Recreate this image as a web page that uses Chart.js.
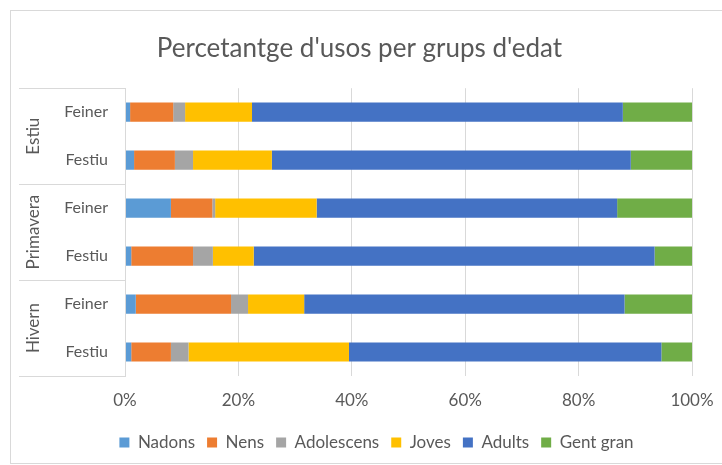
<!DOCTYPE html>
<html>
<head>
<meta charset="utf-8">
<script src="https://cdn.jsdelivr.net/npm/chart.js@4.4.0/dist/chart.umd.min.js"></script>
<style>
html,body{margin:0;padding:0;background:#fff;}
#wrap{position:relative;width:722px;height:465px;}
</style>
</head>
<body>
<div id="wrap"><canvas id="c" width="722" height="465"></canvas></div>
<script>
const titleText = "Percetantge d'usos per grups d'edat";
const categories = ['Feiner', 'Festiu', 'Feiner', 'Festiu', 'Feiner', 'Festiu'];
const groups = ['Estiu', 'Primavera', 'Hivern'];
const groupSizes = [2, 2, 2];
const xTicks = [0, 20, 40, 60, 80, 100];

const nadons     = [0.9, 1.6, 8.1, 1.1, 1.9, 1.1];
const nens       = [7.6, 7.2, 7.3, 10.9, 16.8, 7.0];
const adolescens = [2.1, 3.2, 0.5, 3.5, 3.0, 3.1];
const joves      = [11.8, 13.9, 17.9, 7.2, 9.9, 28.3];
const adults     = [65.4, 63.3, 53.0, 70.7, 56.5, 55.1];
const gentGran   = [12.2, 10.8, 13.2, 6.6, 11.9, 5.4];

const seriesNames = ['Nadons', 'Nens', 'Adolescens', 'Joves', 'Adults', 'Gent gran'];
const seriesData = [nadons, nens, adolescens, joves, adults, gentGran];
const seriesColors = ['#5B9BD5', '#ED7D31', '#A5A5A5', '#FFC000', '#4472C4', '#70AD47'];

const FONT = 'Lato, "Open Sans", sans-serif';
const TEXT = '#595959';
const GRID = '#d9d9d9';

const groupPlugin = {
  id: 'groupPlugin',
  afterLayout(chart) {
    if (chart.titleBlock) { chart.titleBlock.left += 27; }
    if (chart.legend) { chart.legend.left += 61; }
  },
  beforeDraw(chart) {
    const ctx = chart.ctx;
    ctx.save();
    ctx.fillStyle = '#fff';
    ctx.fillRect(0, 0, chart.width, chart.height);
    ctx.strokeStyle = GRID;
    ctx.lineWidth = 1;
    ctx.strokeRect(10.5, 10.5, chart.width + 20, 453);
    ctx.restore();
  },
  afterDraw(chart) {
    const ctx = chart.ctx;
    const y = chart.scales.y;
    const area = chart.chartArea;
    const left = 19;
    const right = Math.round(area.left) + 0.5;
    ctx.save();
    ctx.strokeStyle = GRID;
    ctx.lineWidth = 1;
    let idx = 0;
    const bounds = [area.top];
    groupSizes.forEach(n => {
      idx += n;
      if (idx < categories.length) {
        bounds.push((y.getPixelForValue(idx - 1) + y.getPixelForValue(idx)) / 2);
      } else {
        bounds.push(area.bottom);
      }
    });
    ctx.beginPath();
    bounds.forEach(b => {
      const yy = Math.round(b) + 0.5;
      ctx.moveTo(left, yy);
      ctx.lineTo(right, yy);
    });
    ctx.moveTo(right, Math.round(area.top));
    ctx.lineTo(right, Math.round(area.bottom) + 1);
    ctx.stroke();
    ctx.fillStyle = TEXT;
    ctx.font = '17px ' + FONT;
    ctx.textAlign = 'center';
    ctx.textBaseline = 'middle';
    groups.forEach((g, i) => {
      const cy = (bounds[i] + bounds[i + 1]) / 2;
      ctx.save();
      ctx.translate(34, cy);
      ctx.rotate(-Math.PI / 2);
      ctx.fillText(g, 0, 0);
      ctx.restore();
    });
    ctx.restore();
  }
};

new Chart(document.getElementById('c'), {
  type: 'bar',
  data: {
    labels: categories,
    datasets: seriesNames.map((n, i) => ({
      label: n,
      data: seriesData[i],
      backgroundColor: seriesColors[i],
      borderWidth: 0,
      barPercentage: 0.8,
      categoryPercentage: 0.5
    }))
  },
  options: {
    indexAxis: 'y',
    responsive: false,
    animation: false,
    devicePixelRatio: 1,
    layout: { padding: { left: 0, right: 30, top: 0, bottom: 4 } },
    scales: {
      x: {
        stacked: true,
        min: 0, max: 100,
        afterBuildTicks(scale) { scale.ticks = xTicks.map(v => ({ value: v })); },
        ticks: { callback: v => v + '%', color: TEXT, font: { family: FONT, size: 17 }, padding: 14 },
        grid: { color: GRID, drawTicks: false },
        border: { display: false },
        afterFit(scale) { scale.height = 46; scale.paddingRight = 0; scale.paddingLeft = 0; }
      },
      y: {
        stacked: true,
        ticks: { color: TEXT, font: { family: FONT, size: 16 }, padding: 17 },
        grid: { display: false, drawTicks: false },
        border: { display: false },
        afterFit(scale) { scale.width = 125; }
      }
    },
    plugins: {
      title: {
        display: true,
        text: titleText,
        color: TEXT,
        font: { family: FONT, size: 26, weight: 'normal' },
        padding: { top: 33, bottom: 24 }
      },
      legend: {
        position: 'bottom',
        labels: {
          color: TEXT,
          font: { family: FONT, size: 17 },
          boxWidth: 10, boxHeight: 10,
          padding: 12
        }
      },
      tooltip: { enabled: false }
    }
  },
  plugins: [groupPlugin]
});
</script>
</body>
</html>
